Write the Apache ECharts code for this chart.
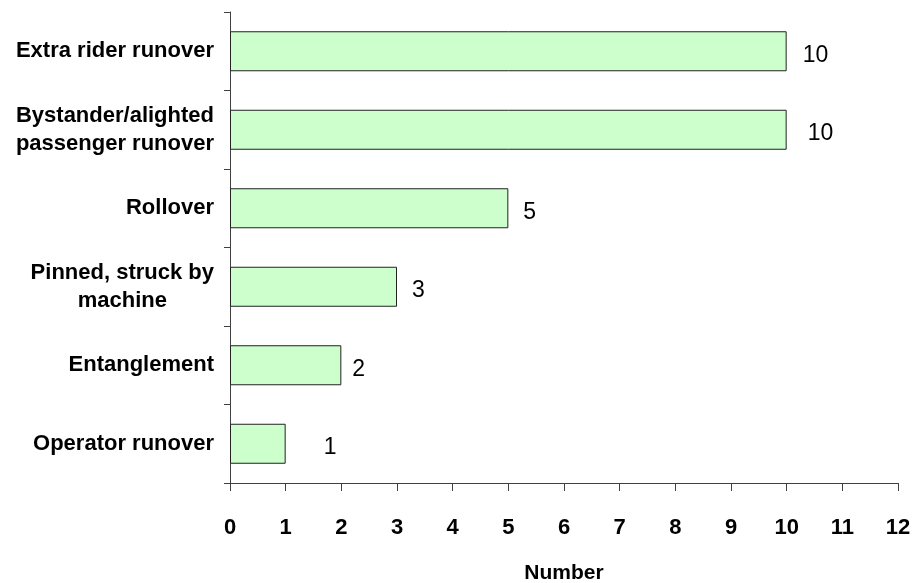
<!DOCTYPE html>
<html>
<head>
<meta charset="utf-8">
<script src="https://cdn.jsdelivr.net/npm/echarts@6/dist/echarts.min.js"></script>
<style>
  html, body { margin: 0; padding: 0; background: #fff; }
  #chart { width: 921px; height: 583px; }
</style>
</head>
<body>
<div id="chart"></div>
<script>
const categories = [
  'Extra rider runover',
  'Bystander/alighted\npassenger runover',
  'Rollover',
  'Pinned, struck by\nmachine',
  'Entanglement',
  'Operator runover'
]
const counts = [10, 10, 5, 3, 2, 1]
const xTicks = [0, 1, 2, 3, 4, 5, 6, 7, 8, 9, 10, 11, 12]

const font = 'Liberation Sans, Arial, sans-serif'
const axisColor = '#404040'

// label gap after each bar end, the source chart isn't consistent
const labelGap = [16, 21, 15, 15, 11, 38]

const chart = echarts.init(document.getElementById('chart'))

chart.setOption({
  animation: false,
  grid: { left: 230, right: 23, top: 12, bottom: 100, outerBoundsMode: 'none', containLabel: false },
  xAxis: {
    type: 'value',
    min: xTicks[0],
    max: xTicks[xTicks.length - 1],
    interval: 1,
    name: 'Number',
    nameLocation: 'middle',
    nameGap: 80,
    nameTextStyle: { fontFamily: font, fontWeight: 'bold', fontSize: 21, color: '#000' },
    axisLine: { show: true, lineStyle: { color: axisColor, width: 1 } },
    axisTick: { show: true, length: 8, lineStyle: { color: axisColor } },
    axisLabel: { margin: 34, fontFamily: font, fontWeight: 'bold', fontSize: 22, color: '#000' },
    splitLine: { show: false }
  },
  yAxis: {
    type: 'category',
    data: categories,
    inverse: true,
    axisLine: { show: true, lineStyle: { color: axisColor, width: 1 } },
    axisTick: { show: true, length: 6, lineStyle: { color: axisColor } },
    axisLabel: {
      margin: 16,
      align: 'right',
      // two-line names are centred line by line in the original
      formatter: (name) => name.split('\n').map((s) => `{c|${s}}`).join('\n'),
      rich: {
        c: {
          align: 'center',
          fontFamily: font,
          fontWeight: 'bold',
          fontSize: 22,
          lineHeight: 28,
          color: '#000'
        }
      }
    }
  },
  series: [
    {
      type: 'bar',
      barWidth: 40,
      data: counts.map((v, i) => ({ value: v, label: { distance: labelGap[i] } })),
      itemStyle: { color: '#ccffcc', borderColor: '#222', borderWidth: 1 },
      label: {
        show: true,
        position: 'right',
        offset: [0, 4],
        fontFamily: font,
        fontSize: 23,
        color: '#000'
      }
    }
  ]
})
</script>
</body>
</html>
